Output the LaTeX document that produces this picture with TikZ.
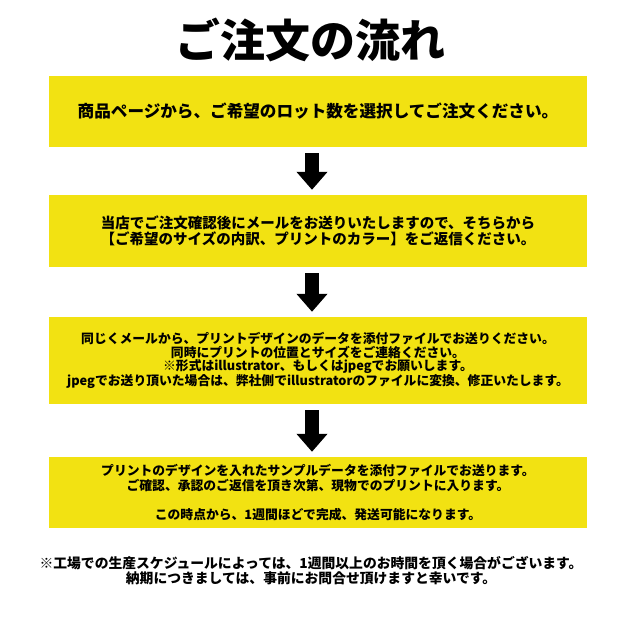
\documentclass[tikz,border=0pt]{standalone}
\usepackage{fontspec}
\newfontfamily\jpfont{Noto Sans CJK JP}
\usetikzlibrary{arrows.meta}
\definecolor{stepyellow}{RGB}{242,226,18}
\tikzset{
  jp/.style 2 args={font=\jpfont\bfseries\fontsize{#1}{#2}\selectfont},
  stepbox/.style={fill=stepyellow, draw=none, minimum width=538pt, align=center, inner sep=0pt},
  blockarrow/.style={line width=14pt, -{Triangle[width=30pt,length=18pt]}},
}
\begin{document}
\begin{tikzpicture}[x=1pt, y=-1pt]
  \useasboundingbox (0,0) rectangle (640,640);
  \node[jp={45}{50}] (title) at (310,40) {ご注文の流れ};
  \node[stepbox, jp={16.6}{20}, minimum height=71pt] (box1) at (318,111.5) {商品ページから、ご希望のロット数を選択してご注文ください。};
  \node[stepbox, jp={14.5}{16}, minimum height=72pt] (box2) at (318,231) {当店でご注文確認後にメールをお送りいたしますので、そちらから\\【ご希望のサイズの内訳、プリントのカラー】をご返信ください。};
  \node[stepbox, jp={12.8}{13.4}, minimum height=87pt] (box3) at (318,360.5) {同じくメールから、プリントデザインのデータを添付ファイルでお送りください。\\同時にプリントの位置とサイズをご連絡ください。\\※形式はillustrator、もしくはjpegでお願いします。\\jpegでお送り頂いた場合は、弊社側でillustratorのファイルに変換、修正いたします。};
  \node[stepbox, jp={12.8}{14.5}, minimum height=71pt] (box4) at (318,492.5) {プリントのデザインを入れたサンプルデータを添付ファイルでお送ります。\\ご確認、承認のご返信を頂き次第、現物でのプリントに入ります。\\[14.5pt]この時点から、1週間ほどで完成、発送可能になります。};
  \node[jp={13.8}{15}, align=center] (note) at (311,570.5) {※工場での生産スケジュールによっては、1週間以上のお時間を頂く場合がございます。\\納期につきましては、事前にお問合せ頂けますと幸いです。};
  \foreach \a/\b in {box1/box2, box2/box3, box3/box4}
    \draw[blockarrow] ([xshift=-6pt, yshift=-6pt]\a.south) -- ([xshift=-6pt, yshift=5pt]\b.north);
\end{tikzpicture}
\end{document}
